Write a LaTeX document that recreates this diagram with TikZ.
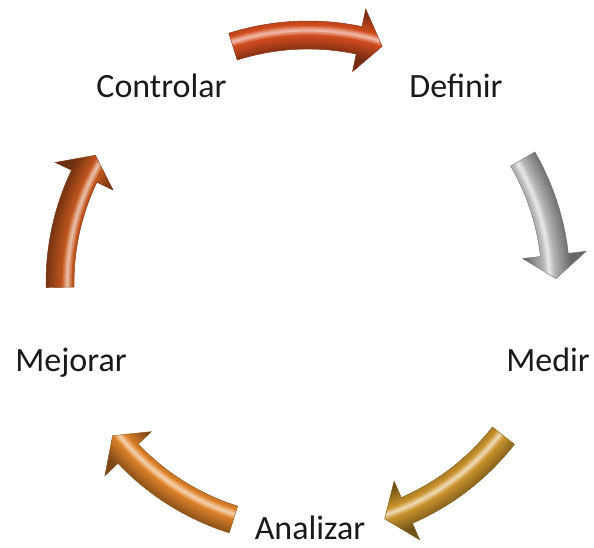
\documentclass[tikz,border=0pt]{standalone}
\usepackage{fontspec}
\setmainfont{Carlito}
\definecolor{cTop}{RGB}{214,78,32}
\definecolor{cRight}{RGB}{188,188,188}
\definecolor{cBR}{RGB}{205,150,45}
\definecolor{cBL}{RGB}{226,132,42}
\definecolor{cLeft}{RGB}{198,88,30}
\tikzset{lbl/.style={anchor=base, font=\fontsize{34}{40}\selectfont, text=black!90, inner sep=0pt}}
% #1 colour, #2 start angle, #3 end angle, #4 highlight offset
\newcommand\cyclearrow[4]{%
  \pgfmathsetmacro\sg{sign(#3-(#2))}%
  \pgfmathsetmacro\ab{#3-\sg*5.5}%
  \def\arrowpath{(#2:262pt) arc[start angle=#2, end angle=\ab, radius=262pt]
     -- (\ab:280pt) -- (#3:248pt) -- (\ab:216pt) -- (\ab:234pt)
     arc[start angle=\ab, end angle=#2, radius=234pt] -- cycle}%
  \begin{scope}[shift={(308pt,265pt)}]
    \begin{scope}
      \clip \arrowpath;
      \foreach \k in {-36,-34.5,...,36} {
        \pgfmathtruncatemacro\lt{100-max(0,65-13*abs((\k)-(#4)))}
        \pgfmathtruncatemacro\dk{100-min(45,2.4*max(0,abs((\k)-(#4))-4))}
        \pgfmathsetmacro\rr{248+\k}
        \draw[line width=2.2pt, color={#1!\lt!white!\dk!black}] (0,0) circle[radius=\rr pt];
      }
    \end{scope}
    \draw[#1!65!black, line width=0.4pt] \arrowpath;
  \end{scope}%
}
\begin{document}
\begin{tikzpicture}
\useasboundingbox (0,0) rectangle (594pt,548pt);
\cyclearrow{cTop}{107.6}{72.6}{5}
\cyclearrow{cRight}{30}{1}{-6}
\cyclearrow{cBR}{-38}{-72}{-3}
\cyclearrow{cBL}{-107.5}{-142}{-5}
\cyclearrow{cLeft}{181}{149}{-7}
\node[lbl] (ctl) at (161.5pt,450pt) {Controlar};
\node[lbl] (def) at (456pt,450pt) {Definir};
\node[lbl] (med) at (548pt,176pt) {Medir};
\node[lbl] (mej) at (71pt,176pt) {Mejorar};
\node[lbl] (ana) at (310pt,8pt) {Analizar};
\end{tikzpicture}
\end{document}
